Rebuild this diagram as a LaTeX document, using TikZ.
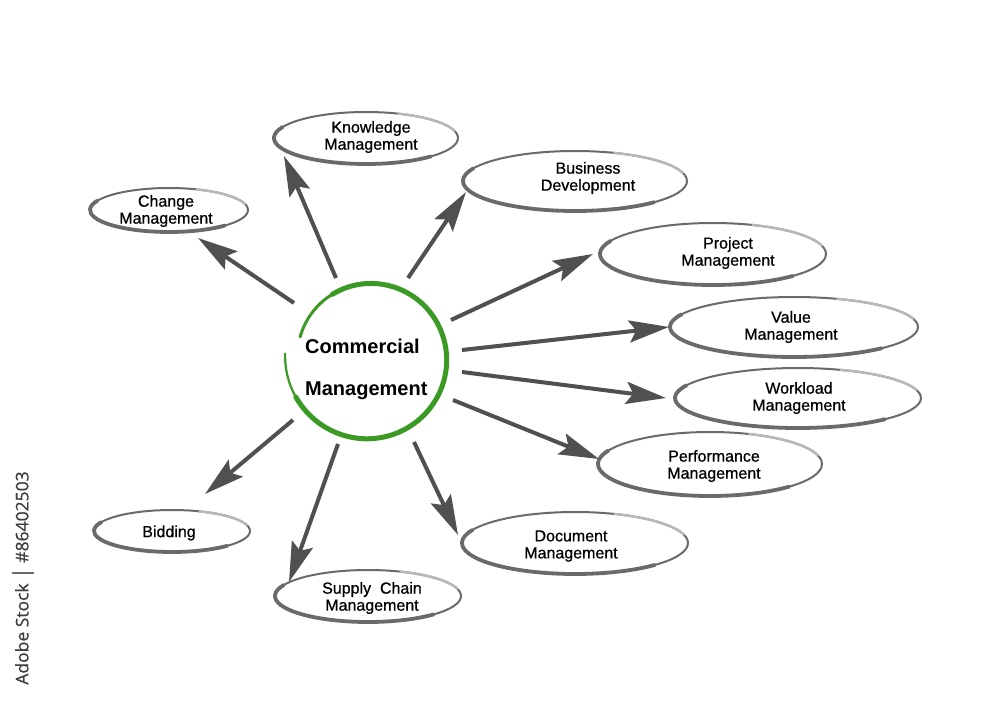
\documentclass[tikz,border=0pt]{standalone}
\usepackage{fontspec}
\setmainfont{Liberation Sans}
\newfontfamily\lblfont[FakeBold=0.7]{Liberation Sans}
\newfontfamily\wmfont[FakeBold=0.6]{Open Sans}
\usetikzlibrary{arrows.meta,shapes.geometric}
\definecolor{arrowgray}{HTML}{505050}
\definecolor{ringgray}{HTML}{6A6A6A}
\definecolor{lightring}{HTML}{B8B8B8}
\definecolor{cmgreen}{HTML}{3A9A24}
\definecolor{wmgray}{HTML}{3C3C3C}
\tikzset{
  lbl/.style={align=center, inner sep=0pt, font=\lblfont\fontsize{16}{17}\selectfont},
  ctext/.style={anchor=base west, inner sep=0pt, font=\fontsize{20}{22}\selectfont\bfseries},
  arr/.style={arrowgray, line width=4pt, -{Stealth[length=40pt, width=22pt, inset=7pt]}},
  ring/.style={cmgreen, line cap=round}
}
\newcommand{\bubble}[5]{%
  \node[ellipse, draw=ringgray, line width=2pt, minimum width=2*#4, minimum height=2*#5, inner sep=0pt] (#1) at (#2,#3) {};
  \draw[ringgray, line width=3.8pt, line cap=round] (#1.center) ++(205:#4 and #5) arc[start angle=205, end angle=45, x radius=#4, y radius=#5];
  \draw[lightring, line width=2.4pt] (#1.center) ++(-70:#4 and #5) arc[start angle=-70, end angle=-15, x radius=#4, y radius=#5];
}
\begin{document}
\begin{tikzpicture}[x=1pt, y=-1pt]
\useasboundingbox[fill=white] (0,0) rectangle (1000,703);

% central green ring
\coordinate (cm) at (369,358);
\draw[ring, line width=2.2pt] plot[domain=183:150, samples=15] ({369+(84-12*(183-\x)/346)*cos(\x)}, {358+(84-12*(183-\x)/346)*sin(\x)});
\draw[ring, line width=5pt] plot[domain=152:-120, samples=80] ({369+(84-12*(183-\x)/346)*cos(\x)}, {358+(84-12*(183-\x)/346)*sin(\x)});
\draw[ring, line width=3pt] plot[domain=-118:-163, samples=20] ({369+(84-12*(183-\x)/346)*cos(\x)}, {358+(84-12*(183-\x)/346)*sin(\x)});
\node[ctext] (cm1) at (305,353) {Commercial};
\node[ctext] (cm2) at (305,395) {Management};

% bubbles
\bubble{km}{366}{138}{92}{26}
\bubble{chm}{169}{210}{79}{22}
\bubble{bd}{575}{181}{112}{30}
\bubble{pm}{713}{254}{113}{31}
\bubble{vm}{794}{327}{124}{30}
\bubble{wm}{798}{398}{123}{30}
\bubble{pfm}{710}{464}{112}{32}
\bubble{dm}{575}{543}{113}{31}
\bubble{scm}{368}{596}{93}{26}
\bubble{bid}{172}{531}{78}{21}

\node[lbl] (kmt) at (371,137) {Knowledge\\Management};
\node[lbl] (chmt) at (166,211) {Change\\Management};
\node[lbl] (bdt) at (588,178) {Business\\Development};
\node[lbl] (pmt) at (728,253) {Project\\Management};
\node[lbl] (vmt) at (791,327) {Value\\Management};
\node[lbl] (wmt) at (799,398) {Workload\\Management};
\node[lbl] (pfmt) at (714,466) {Performance\\Management};
\node[lbl] (dmt) at (571,546) {Document\\Management};
\node[lbl] (scmt) at (372,598) {Supply~~Chain\\Management};
\node[lbl] (bidt) at (169,533) {Bidding};

% arrow ends
\coordinate (s1) at (294,303); \coordinate (t1) at (198,238);
\coordinate (s2) at (336,278); \coordinate (t2) at (284,156);
\coordinate (s3) at (408,278); \coordinate (t3) at (466,192);
\coordinate (s4) at (451,320); \coordinate (t4) at (593,254);
\coordinate (s5) at (462,350); \coordinate (t5) at (669,327);
\coordinate (s6) at (462,372); \coordinate (t6) at (666,398);
\coordinate (s7) at (453,400); \coordinate (t7) at (599,459);
\coordinate (s8) at (414,442); \coordinate (t8) at (458,535);
\coordinate (s9) at (338,444); \coordinate (t9) at (289,582);
\coordinate (s10) at (293,420); \coordinate (t10) at (205,494);

\draw[arr] (s1) -- (t1);
\draw[arr] (s2) -- (t2);
\draw[arr] (s3) -- (t3);
\draw[arr] (s4) -- (t4);
\draw[arr] (s5) -- (t5);
\draw[arr] (s6) -- (t6);
\draw[arr] (s7) -- (t7);
\draw[arr] (s8) -- (t8);
\draw[arr] (s9) -- (t9);
\draw[arr] (s10) -- (t10);

% side credit
\node[rotate=90, inner sep=0pt, text=wmgray, font=\wmfont\fontsize{17.5}{19}\selectfont] (credit) at (23,578) {Adobe Stock {\fontsize{21}{21}\selectfont|} \#86402503};
\end{tikzpicture}
\end{document}
